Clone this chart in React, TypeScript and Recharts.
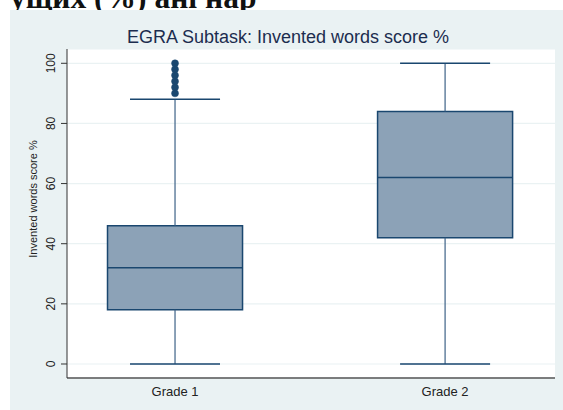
import React from 'react';
import {
  ComposedChart,
  Scatter,
  XAxis,
  YAxis,
  CartesianGrid,
  ReferenceArea,
  ReferenceLine,
} from 'recharts';

// box plot summary per grade
const categories = ['Grade 1', 'Grade 2'];
const positions = [1, 2];
const whiskerLow = [0, 0];
const q1 = [18, 42];
const median = [32, 62];
const q3 = [46, 84];
const whiskerHigh = [88, 100];
const outliersGrade1 = [90, 92, 94, 96, 98, 100];
const yTicks = [0, 20, 40, 60, 80, 100];

const NAVY = '#1a476f';
const BOX_FILL = '#8ca2b7';
const BG = '#eaf2f3';
const FONT = '"Liberation Sans", Arial, sans-serif';

const outlierData = outliersGrade1.map((v) => ({ x: positions[0], y: v }));

const YTick = (props: any) => {
  const { x, y, payload } = props;
  const bx = x - 4;
  return (
    <text
      x={bx}
      y={y}
      transform={`rotate(-90 ${bx} ${y})`}
      textAnchor="middle"
      fontSize={12}
      fill="#222"
      fontFamily={FONT}
    >
      {payload.value}
    </text>
  );
};

const XTick = (props: any) => {
  const { x, payload } = props;
  const idx = positions.indexOf(payload.value);
  return (
    <text x={x} y={396} textAnchor="middle" fontSize={13} fill="#222" fontFamily={FONT}>
      {categories[idx]}
    </text>
  );
};

const YLabel = () => (
  <text
    x={37}
    y={199}
    transform="rotate(-90 37 199)"
    textAnchor="middle"
    fontSize={11}
    fill="#222"
    fontFamily={FONT}
  >
    Invented words score %
  </text>
);

const Dot = (props: any) => (
  <circle cx={props.cx} cy={props.cy} r={3.5} fill={NAVY} stroke={NAVY} strokeWidth={0.5} />
);

export default function App() {
  const boxHalf = 0.25;
  const capHalf = 1 / 6;
  return (
    <div style={{ position: 'absolute', left: 0, top: 0, width: 563, height: 410, overflow: 'hidden', background: '#fff' }}>
      <div
        style={{
          position: 'absolute',
          left: 10,
          top: -18.4,
          fontSize: 31.5,
          lineHeight: '31.5px',
          fontWeight: 'bold',
          fontFamily: '"Liberation Serif", "DejaVu Serif", serif',
          color: '#111',
          whiteSpace: 'nowrap',
        }}
      >
        ущих (%) ані нар
      </div>
      <div style={{ position: 'absolute', left: 10, top: 10, width: 553, height: 400, background: BG }} />
      <div
        style={{
          position: 'absolute',
          left: 0,
          width: 576,
          top: 27.5,
          textAlign: 'center',
          fontSize: 18,
          lineHeight: '18px',
          fontFamily: FONT,
          color: '#1c2d4f',
          whiteSpace: 'nowrap',
        }}
      >
        EGRA Subtask: Invented words score %
      </div>
      <div style={{ position: 'absolute', left: 0, top: 0 }}>
        <ComposedChart width={563} height={410} margin={{ top: 49, right: 8, bottom: 0, left: 0 }}>
          <CartesianGrid vertical={false} stroke={BG} fill="#ffffff" strokeWidth={1.2} />
          <XAxis
            type="number"
            dataKey="x"
            domain={[0.6, 2.407]}
            ticks={positions}
            tick={<XTick />}
            tickLine={false}
            height={32}
            axisLine={{ stroke: '#555', strokeWidth: 1.5 }}
            allowDataOverflow
          />
          <YAxis
            type="number"
            dataKey="y"
            domain={[-4.66, 104.75]}
            ticks={yTicks}
            width={67}
            tick={<YTick />}
            tickSize={6}
            tickMargin={2}
            tickLine={{ stroke: '#333' }}
            axisLine={{ stroke: '#333' }}
            label={<YLabel />}
            allowDataOverflow
          />
          {positions.map((p, i) => (
            <ReferenceLine
              key={`wl-${i}`}
              segment={[{ x: p, y: whiskerLow[i] }, { x: p, y: q1[i] }]}
              stroke="#3d6187"
              strokeWidth={1.2}
            />
          ))}
          {positions.map((p, i) => (
            <ReferenceLine
              key={`wh-${i}`}
              segment={[{ x: p, y: q3[i] }, { x: p, y: whiskerHigh[i] }]}
              stroke="#3d6187"
              strokeWidth={1.2}
            />
          ))}
          {positions.map((p, i) => (
            <ReferenceLine
              key={`cl-${i}`}
              segment={[{ x: p - capHalf, y: whiskerLow[i] }, { x: p + capHalf, y: whiskerLow[i] }]}
              stroke={NAVY}
              strokeWidth={1.5}
            />
          ))}
          {positions.map((p, i) => (
            <ReferenceLine
              key={`ch-${i}`}
              segment={[{ x: p - capHalf, y: whiskerHigh[i] }, { x: p + capHalf, y: whiskerHigh[i] }]}
              stroke={NAVY}
              strokeWidth={1.5}
            />
          ))}
          {positions.map((p, i) => (
            <ReferenceArea
              key={`box-${i}`}
              x1={p - boxHalf}
              x2={p + boxHalf}
              y1={q1[i]}
              y2={q3[i]}
              fill={BOX_FILL}
              fillOpacity={1}
              stroke={NAVY}
              strokeWidth={1.5}
            />
          ))}
          {positions.map((p, i) => (
            <ReferenceLine
              key={`med-${i}`}
              segment={[{ x: p - boxHalf, y: median[i] }, { x: p + boxHalf, y: median[i] }]}
              stroke={NAVY}
              strokeWidth={1.5}
            />
          ))}
          <Scatter data={outlierData} shape={<Dot />} isAnimationActive={false} />
        </ComposedChart>
      </div>
    </div>
  );
}
